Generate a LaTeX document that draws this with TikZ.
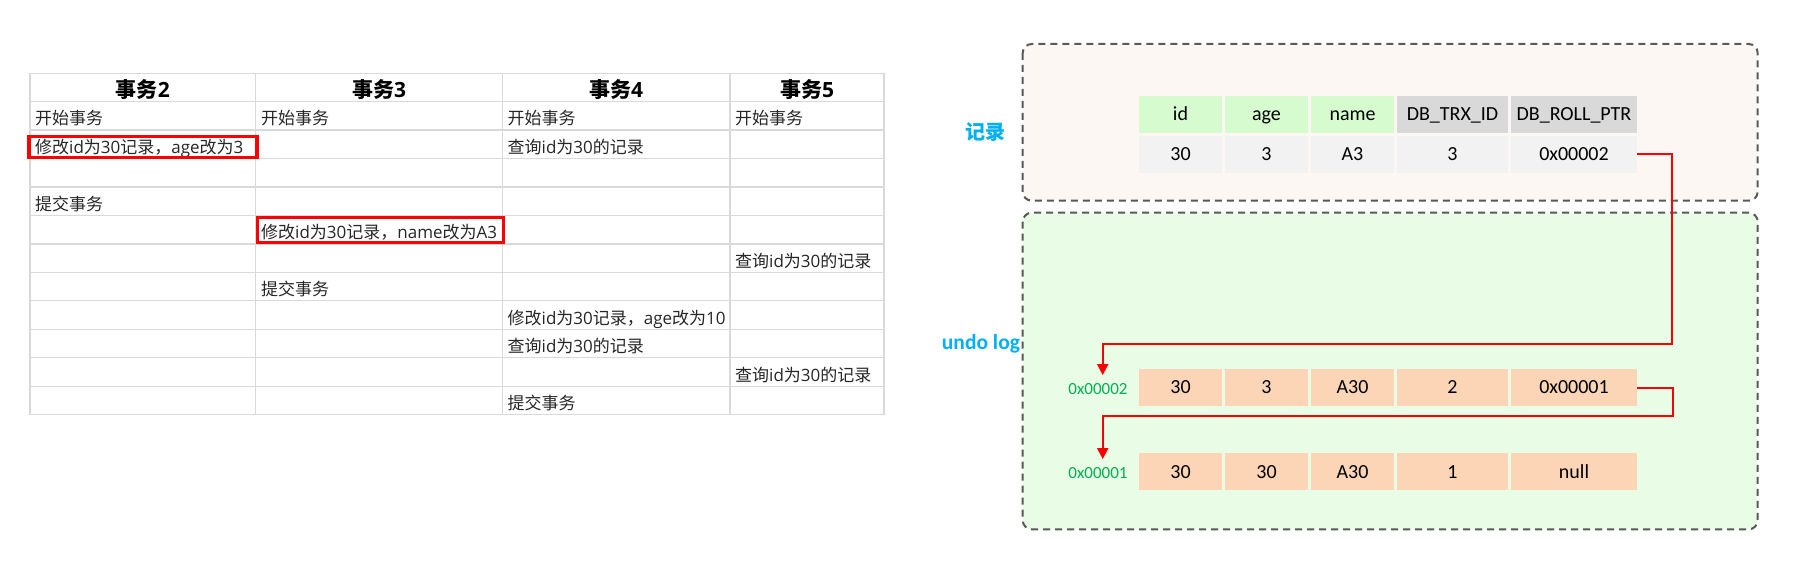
\documentclass[tikz,border=0pt]{standalone}
\usepackage{fontspec}
\setmainfont{Carlito}
\newfontfamily\cjk{Noto Sans CJK SC}
\newfontfamily\latf{Open Sans}
\newcommand\lt[1]{{\latf #1}}
\usetikzlibrary{arrows.meta,calc}
\definecolor{gridc}{HTML}{D9D9D9}
\definecolor{tabtext}{HTML}{262626}
\definecolor{hdrgreen}{HTML}{D5FBCF}
\definecolor{hdrgray}{HTML}{D9D9D9}
\definecolor{valgray}{HTML}{F2F2F2}
\definecolor{peach}{HTML}{FBD5B5}
\definecolor{topfill}{HTML}{FCF7F3}
\definecolor{botfill}{HTML}{E9FCE6}
\definecolor{lblblue}{HTML}{00B0F0}
\definecolor{lblgreen}{HTML}{00B050}
\definecolor{dashgray}{HTML}{595959}
\definecolor{pure red}{HTML}{FF0000}
\begin{document}
\begin{tikzpicture}[x=1pt,y=-1pt,
  gridline/.style={draw=gridc, line width=1.3pt},
  tcell/.style={anchor=base west, inner sep=0pt, font=\cjk\fontsize{17}{20}\selectfont, text=tabtext},
  thead/.style={anchor=base, inner sep=0pt, font=\cjk\bfseries\fontsize{21}{24}\selectfont, text=black},
  redbox/.style={draw=pure red, line width=3.3pt},
  rcell/.style={inner sep=0pt, minimum height=36.7pt, text height=16pt, text depth=3.4pt, font=\fontsize{20}{24}\selectfont, text=black},
  addr/.style={anchor=base, inner sep=0pt, text height=19pt, text depth=0pt, font=\fontsize{17}{20}\selectfont, text=lblgreen},
  dbox/.style={draw=dashgray, line width=2pt, dash pattern=on 7pt off 5pt, rounded corners=9pt},
  redarrow/.style={draw=pure red, line width=2pt, -{Triangle[width=11pt,length=11pt]}},
  bluelbl/.style={inner sep=0pt, text=lblblue}
]
\useasboundingbox (0,0) rectangle (1799,577);

% ---------- left table grid ----------
\foreach \y in {73.3,101.7,130.15,158.6,187.05,215.5,243.95,272.4,300.85,329.3,357.75,386.2,414.65}
  \draw[gridline] (30,\y) -- (884,\y);
\foreach \x in {30,255.7,502.3,730,884}
  \draw[gridline] (\x,73.3) -- (\x,414.65);

% headers
\node[thead] (h2) at (142.85,97.5) {事务\lt{2}};
\node[thead] (h3) at (379,97.5) {事务\lt{3}};
\node[thead] (h4) at (616.15,97.5) {事务\lt{4}};
\node[thead] (h5) at (807,97.5) {事务\lt{5}};

% rows
\node[tcell] (a1) at (35,125.0) {开始事务};
\node[tcell] (b1) at (261,125.0) {开始事务};
\node[tcell] (c1) at (507.5,125.0) {开始事务};
\node[tcell] (d1) at (735,125.0) {开始事务};

\node[tcell] (a2) at (35,153.4) {修改\lt{id}为\lt{30}记录，\lt{age}改为\lt{3}};
\node[tcell] (c2) at (507.5,153.4) {查询\lt{id}为\lt{30}的记录};

\node[tcell] (a4) at (35,210.3) {提交事务};
\node[tcell] (b5) at (261,238.7) {修改\lt{id}为\lt{30}记录，\lt{name}改为\lt{A3}};
\node[tcell] (d6) at (735,267.2) {查询\lt{id}为\lt{30}的记录};
\node[tcell] (b7) at (261,295.6) {提交事务};
\node[tcell] (c8) at (507.5,324.1) {修改\lt{id}为\lt{30}记录，\lt{age}改为\lt{10}};
\node[tcell] (c9) at (507.5,352.5) {查询\lt{id}为\lt{30}的记录};
\node[tcell] (d10) at (735,381.0) {查询\lt{id}为\lt{30}的记录};
\node[tcell] (c11) at (507.5,409.4) {提交事务};

% red highlight boxes
\draw[redbox] (29,136.3) rectangle (257,157.7);
\draw[redbox] (257.7,217.3) rectangle (503.5,242.3);

% ---------- right: containers ----------
\draw[dbox, fill=topfill] (1022.7,44) rectangle (1757.7,200.7);
\draw[dbox, fill=botfill] (1022.7,212.7) rectangle (1757.7,529.3);

\node[bluelbl, font=\cjk\bfseries\fontsize{20}{24}\selectfont] (recl) at (985,131.7) {记录};
\node[bluelbl, anchor=west, font=\bfseries\fontsize{21.5}{24}\selectfont] (undol) at (941.7,343.3) {undo log};

% record header
\node[rcell, fill=hdrgreen, minimum width=83pt]  (k1) at (1180.5,114.3) {id};
\node[rcell, fill=hdrgreen, minimum width=83pt]  (k2) at (1266.5,114.3) {age};
\node[rcell, fill=hdrgreen, minimum width=83pt]  (k3) at (1352.5,114.3) {name};
\node[rcell, fill=hdrgray,  minimum width=111pt] (k4) at (1452.5,114.3) {DB\_TRX\_ID};
\node[rcell, fill=hdrgray,  minimum width=126pt] (k5) at (1574,114.3) {DB\_ROLL\_PTR};
% record values
\node[rcell, fill=valgray, minimum width=83pt]  (v1) at (1180.5,154.3) {30};
\node[rcell, fill=valgray, minimum width=83pt]  (v2) at (1266.5,154.3) {3};
\node[rcell, fill=valgray, minimum width=83pt]  (v3) at (1352.5,154.3) {A3};
\node[rcell, fill=valgray, minimum width=111pt] (v4) at (1452.5,154.3) {3};
\node[rcell, fill=valgray, minimum width=126pt] (v5) at (1574,154.3) {0x00002};

% undo row 1
\node[addr] (l2) at (1098,394.3) {0x00002};
\node[rcell, fill=peach, minimum width=83pt]  (u1) at (1180.5,387.5) {30};
\node[rcell, fill=peach, minimum width=83pt]  (u2) at (1266.5,387.5) {3};
\node[rcell, fill=peach, minimum width=83pt]  (u3) at (1352.5,387.5) {A30};
\node[rcell, fill=peach, minimum width=111pt] (u4) at (1452.5,387.5) {2};
\node[rcell, fill=peach, minimum width=126pt] (u5) at (1574,387.5) {0x00001};

% undo row 2
\node[addr] (l1) at (1098,478.3) {0x00001};
\node[rcell, fill=peach, minimum width=83pt]  (w1) at (1180.5,471.7) {30};
\node[rcell, fill=peach, minimum width=83pt]  (w2) at (1266.5,471.7) {30};
\node[rcell, fill=peach, minimum width=83pt]  (w3) at (1352.5,471.7) {A30};
\node[rcell, fill=peach, minimum width=111pt] (w4) at (1452.5,471.7) {1};
\node[rcell, fill=peach, minimum width=126pt] (w5) at (1574,471.7) {null};

% roll pointers
\draw[redarrow] (v5.east) -- (1672,154.3) -- (1672,344) -- (1102.7,344) -- ([xshift=4.7pt]l2.north);
\draw[redarrow] (u5.east) -- (1673.3,387.5) -- (1673.3,416.3) -- (1102.7,416.3) -- ([xshift=4.7pt]l1.north);
\end{tikzpicture}
\end{document}
